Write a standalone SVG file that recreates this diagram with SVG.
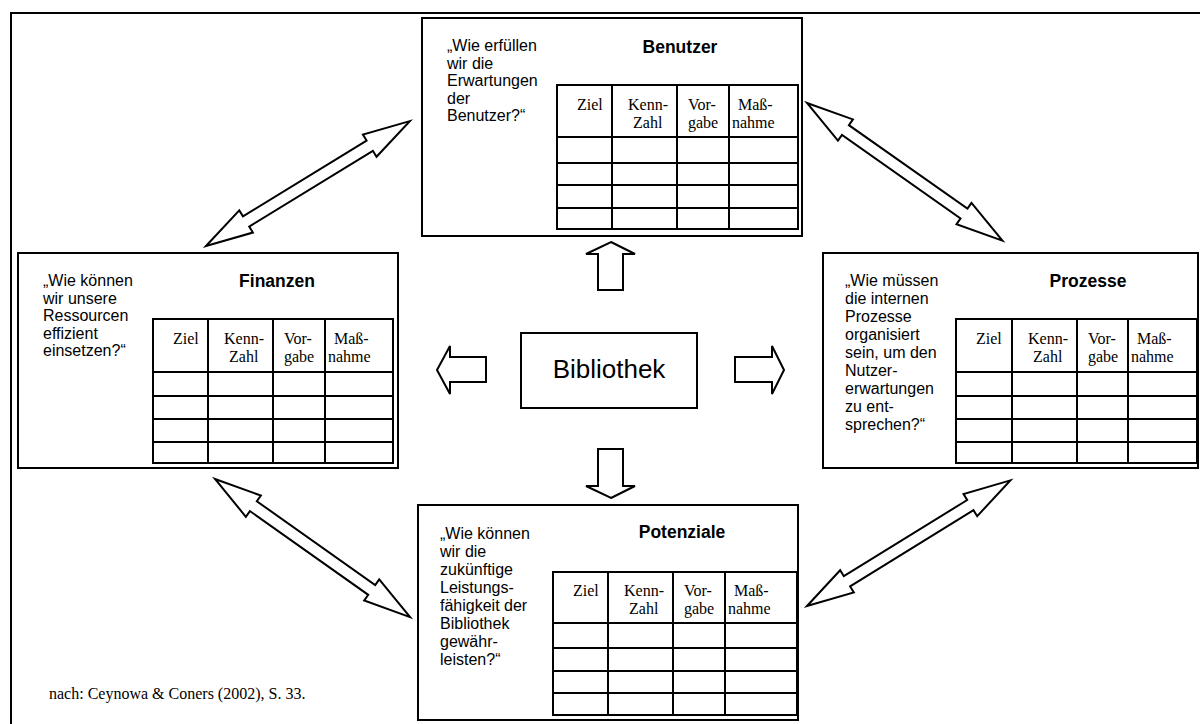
<svg xmlns="http://www.w3.org/2000/svg" width="1200" height="724" viewBox="0 0 1200 724">
<style>
.box{fill:#fff;stroke:#000;stroke-width:2}
.tbl{fill:none;stroke:#000;stroke-width:2}
.q{font-family:"Liberation Sans",Arial,sans-serif;font-size:16px;fill:#000}
.t{font-family:"Liberation Sans",Arial,sans-serif;font-size:17.5px;font-weight:bold;fill:#000;text-anchor:middle}
.h{font-family:"Liberation Serif","Times New Roman",serif;font-size:16px;fill:#000}
.arr{fill:#fff;stroke:#000;stroke-width:2;stroke-linejoin:miter}
</style>
<defs>
<path id="dbl" d="M0,0 L47,-13 L47,-6 L192,-6 L192,-13 L239,0 L192,13 L192,6 L47,6 L47,13 Z"/>
</defs>
<rect width="1200" height="724" fill="#fff"/>
<rect x="11" y="13" width="1200" height="730" fill="none" stroke="#000" stroke-width="2"/>

<g id="connectors">
<use href="#dbl" class="arr" transform="translate(206,246) rotate(-31.49)"/>
<use href="#dbl" class="arr" transform="translate(807,103) rotate(35.15)"/>
<use href="#dbl" class="arr" transform="translate(215,479) rotate(35.29)"/>
<use href="#dbl" class="arr" transform="translate(807,606) rotate(-31.7)"/>
<polygon class="arr" points="611,242 635,254 623,254 623,290 598,290 598,254 586,254"/>
<polygon class="arr" points="611,498 635,486 623,486 623,449 598,449 598,486 586,486"/>
<polygon class="arr" points="437,370 450,346 450,357 486,357 486,382 450,382 450,394"/>
<polygon class="arr" points="784,370 772,346 772,357 735,357 735,382 772,382 772,394"/>
</g>

<g id="benutzer">
<rect class="box" x="422" y="18" width="380" height="218"/>
<text class="q" x="447" y="51">„Wie erfüllen</text>
<text class="q" x="447" y="68.5">wir die</text>
<text class="q" x="447" y="86">Erwartungen</text>
<text class="q" x="447" y="103.5">der</text>
<text class="q" x="447" y="121">Benutzer?“</text>
<text class="t" x="680" y="53">Benutzer</text>
<rect class="tbl" x="557" y="85" width="241" height="144"/>
<path class="tbl" d="M612,85V229M677,85V229M729,85V229M557,137H798M557,163H798M557,185H798M557,208H798"/>
<text class="h" x="577" y="110">Ziel</text>
<text class="h" x="628" y="110">Kenn-</text>
<text class="h" x="633" y="128">Zahl</text>
<text class="h" x="688" y="110">Vor-</text>
<text class="h" x="688" y="128">gabe</text>
<text class="h" x="738" y="110">Maß-</text>
<text class="h" x="732" y="128">nahme</text>
</g>

<g id="finanzen">
<rect class="box" x="18" y="253" width="380" height="215"/>
<text class="q" x="43" y="286">„Wie können</text>
<text class="q" x="43" y="303.5">wir unsere</text>
<text class="q" x="43" y="321">Ressourcen</text>
<text class="q" x="43" y="338.5">effizient</text>
<text class="q" x="43" y="356">einsetzen?“</text>
<text class="t" x="277" y="287">Finanzen</text>
<rect class="tbl" x="153" y="319" width="240" height="144"/>
<path class="tbl" d="M208,319V463M273,319V463M325,319V463M153,372H393M153,396H393M153,419H393M153,442H393"/>
<text class="h" x="173" y="344">Ziel</text>
<text class="h" x="224" y="344">Kenn-</text>
<text class="h" x="229" y="362">Zahl</text>
<text class="h" x="284" y="344">Vor-</text>
<text class="h" x="284" y="362">gabe</text>
<text class="h" x="334" y="344">Maß-</text>
<text class="h" x="328" y="362">nahme</text>
</g>

<g id="prozesse">
<rect class="box" x="823" y="253" width="375" height="215"/>
<text class="q" x="845" y="286">„Wie müssen</text>
<text class="q" x="845" y="304">die internen</text>
<text class="q" x="845" y="322">Prozesse</text>
<text class="q" x="845" y="340">organisiert</text>
<text class="q" x="845" y="358">sein, um den</text>
<text class="q" x="845" y="376">Nutzer-</text>
<text class="q" x="845" y="394">erwartungen</text>
<text class="q" x="845" y="412">zu ent-</text>
<text class="q" x="845" y="430">sprechen?“</text>
<text class="t" x="1088" y="287">Prozesse</text>
<rect class="tbl" x="956" y="319" width="241" height="144"/>
<path class="tbl" d="M1012,319V463M1077,319V463M1128,319V463M956,372H1197M956,396H1197M956,419H1197M956,442H1197"/>
<text class="h" x="976" y="344">Ziel</text>
<text class="h" x="1028" y="344">Kenn-</text>
<text class="h" x="1033" y="362">Zahl</text>
<text class="h" x="1088" y="344">Vor-</text>
<text class="h" x="1088" y="362">gabe</text>
<text class="h" x="1137" y="344">Maß-</text>
<text class="h" x="1131" y="362">nahme</text>
</g>

<g id="potenziale">
<rect class="box" x="418" y="505" width="380" height="215"/>
<text class="q" x="440" y="539">„Wie können</text>
<text class="q" x="440" y="557">wir die</text>
<text class="q" x="440" y="575">zukünftige</text>
<text class="q" x="440" y="593">Leistungs-</text>
<text class="q" x="440" y="611">fähigkeit der</text>
<text class="q" x="440" y="629">Bibliothek</text>
<text class="q" x="440" y="647">gewähr-</text>
<text class="q" x="440" y="665">leisten?“</text>
<text class="t" x="682" y="538">Potenziale</text>
<rect class="tbl" x="553" y="572" width="244" height="143"/>
<path class="tbl" d="M608,572V715M673,572V715M725,572V715M553,623H797M553,648H797M553,671H797M553,693H797"/>
<text class="h" x="573" y="596">Ziel</text>
<text class="h" x="624" y="596">Kenn-</text>
<text class="h" x="629" y="614">Zahl</text>
<text class="h" x="684" y="596">Vor-</text>
<text class="h" x="684" y="614">gabe</text>
<text class="h" x="734" y="596">Maß-</text>
<text class="h" x="728" y="614">nahme</text>
</g>

<g id="bibliothek">
<rect class="box" x="521" y="333" width="176" height="75"/>
<text x="609" y="378" text-anchor="middle" font-family="'Liberation Sans',Arial,sans-serif" font-size="26">Bibliothek</text>
</g>

<text x="49" y="699" font-family="'Liberation Serif','Times New Roman',serif" font-size="16">nach: Ceynowa &amp; Coners (2002), S. 33.</text>
</svg>
